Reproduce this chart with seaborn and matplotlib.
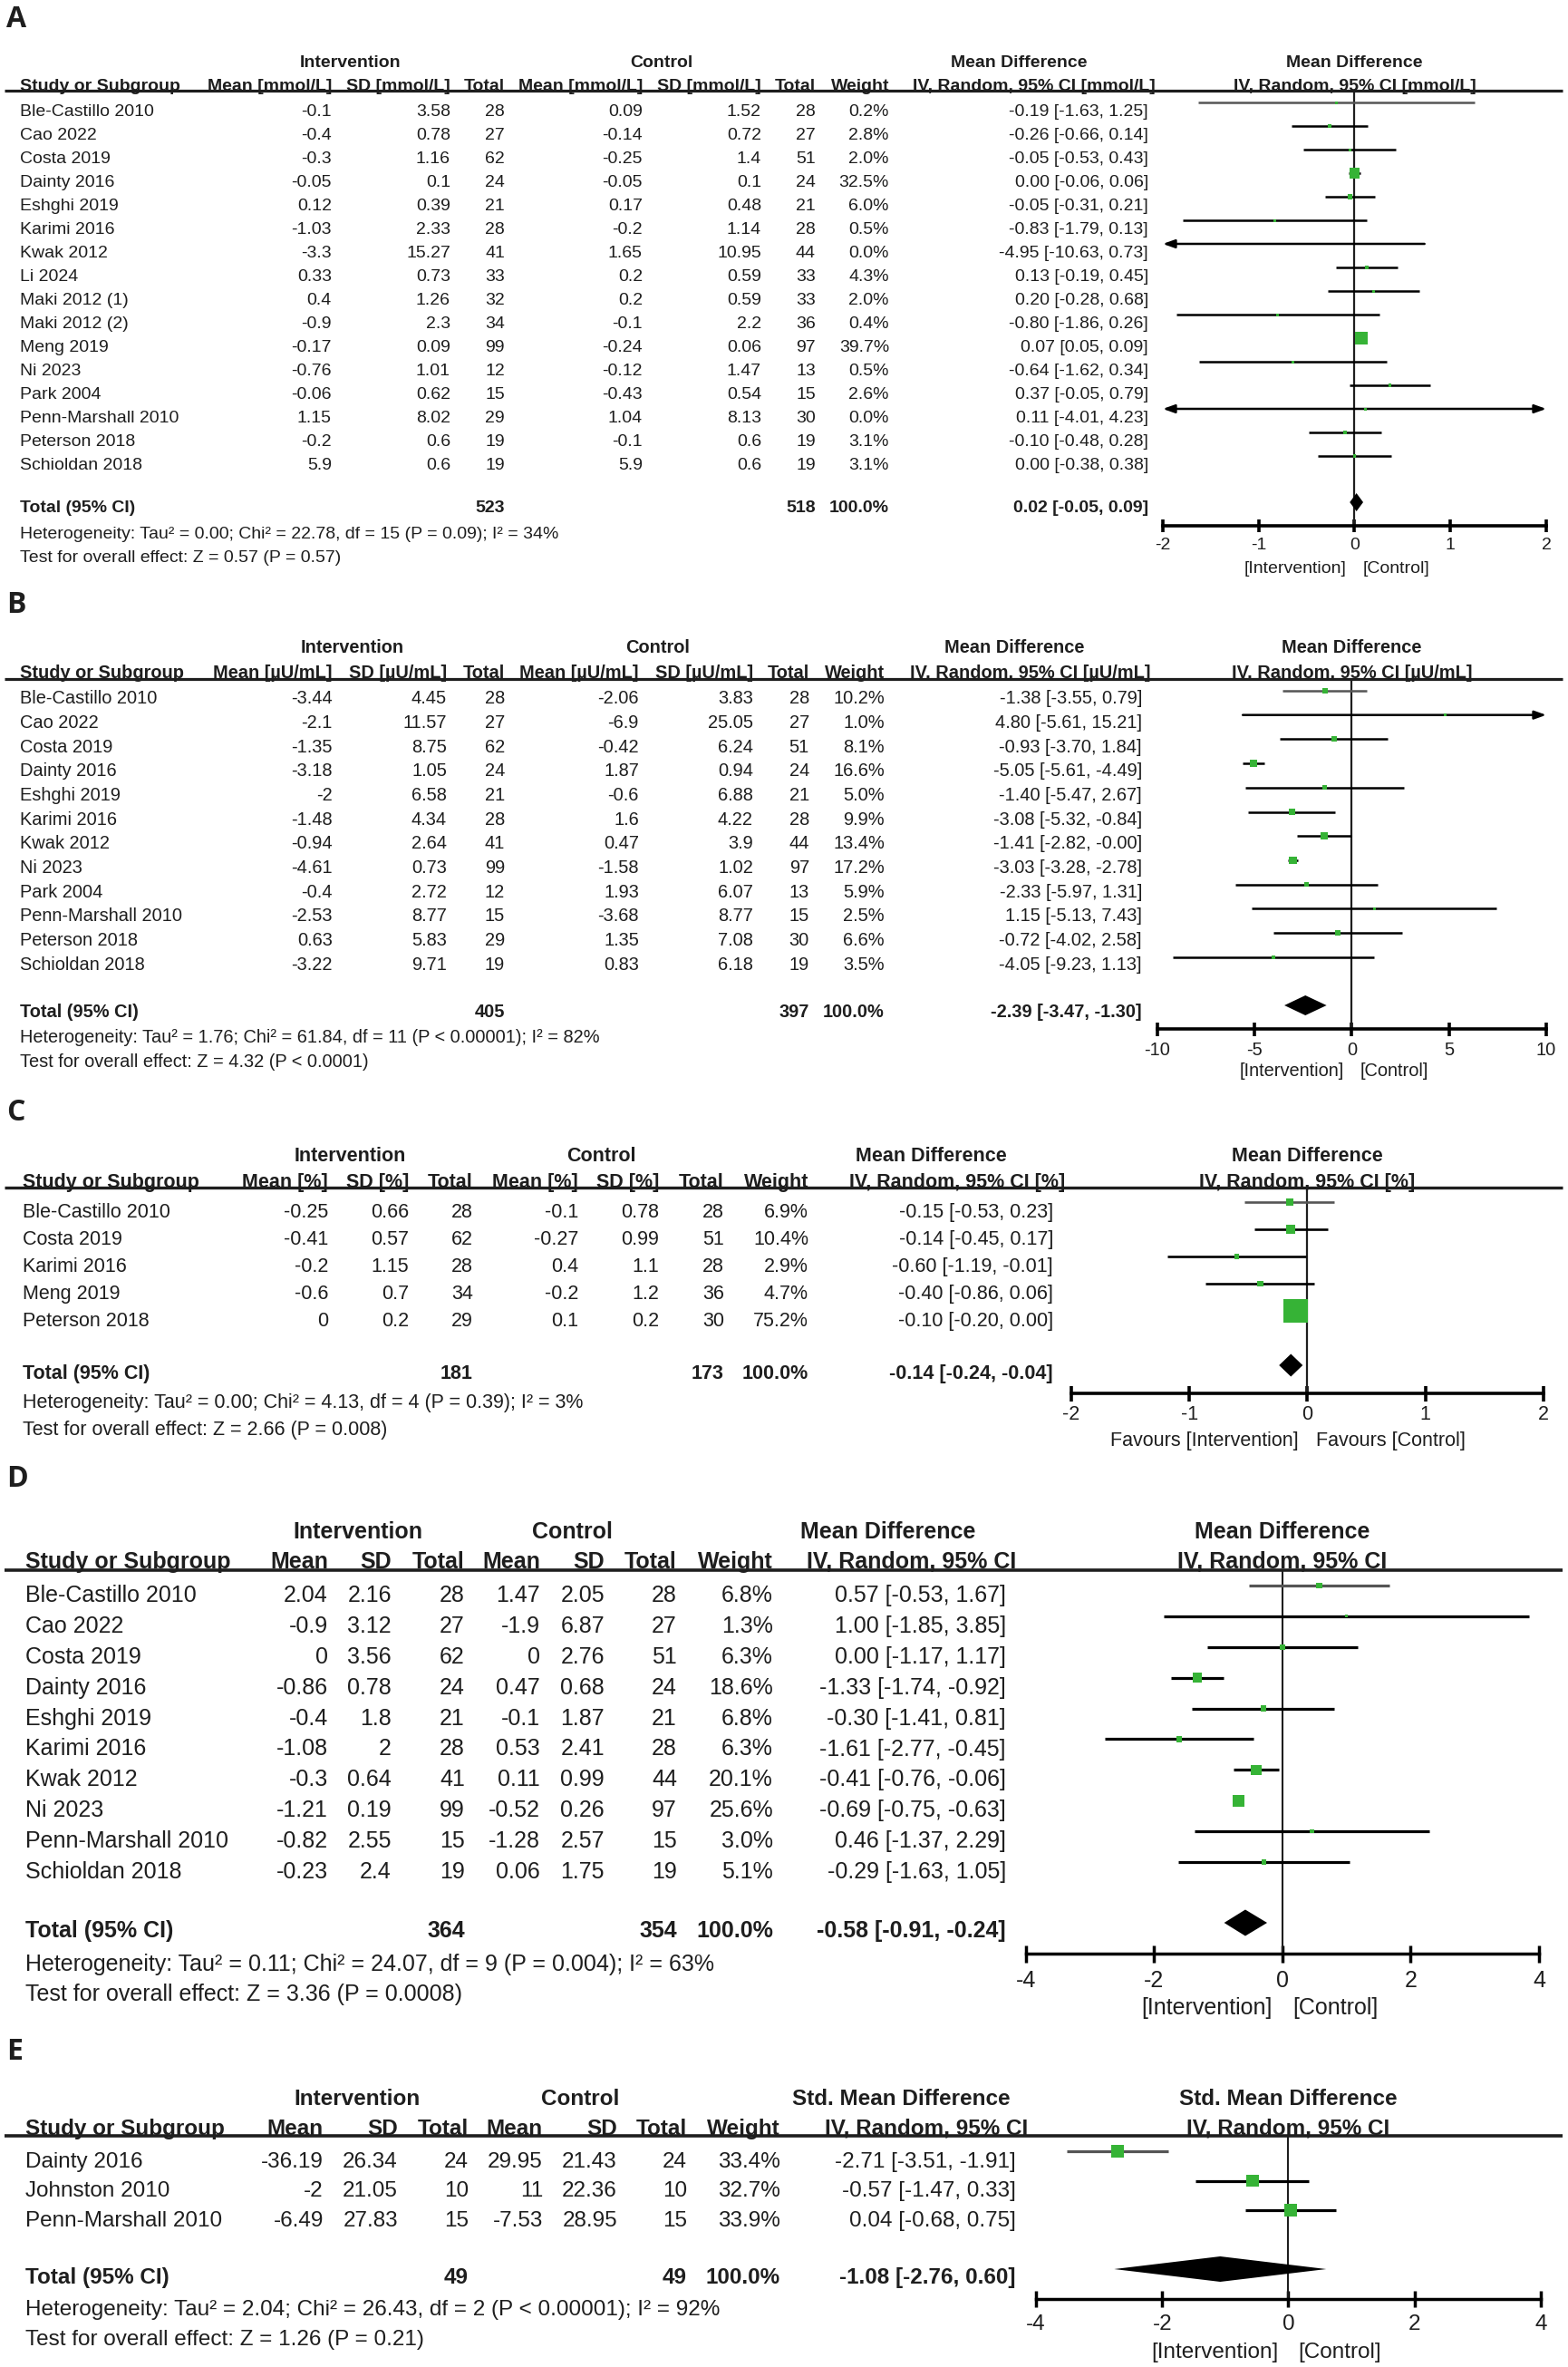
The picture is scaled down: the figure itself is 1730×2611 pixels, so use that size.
import numpy as np
import pandas as pd
import matplotlib
matplotlib.use("Agg")
import matplotlib.pyplot as plt
import seaborn as sns

sns.set_theme(style="white")
plt.rcParams["font.family"] = ["Liberation Sans", "DejaVu Sans"]

W, H, DPI = 1731, 2611, 100
INK = "#1e1e1e"
GREEN = "#36b336"

# ---------------- A : glucose [mmol/L] ----------------
studies_a = ["Ble-Castillo 2010", "Cao 2022", "Costa 2019", "Dainty 2016", "Eshghi 2019",
             "Karimi 2016", "Kwak 2012", "Li 2024", "Maki 2012 (1)", "Maki 2012 (2)",
             "Meng 2019", "Ni 2023", "Park 2004", "Penn-Marshall 2010", "Peterson 2018",
             "Schioldan 2018"]
int_mean_a = [-0.1, -0.4, -0.3, -0.05, 0.12, -1.03, -3.3, 0.33, 0.4, -0.9, -0.17, -0.76, -0.06, 1.15, -0.2, 5.9]
int_sd_a = [3.58, 0.78, 1.16, 0.1, 0.39, 2.33, 15.27, 0.73, 1.26, 2.3, 0.09, 1.01, 0.62, 8.02, 0.6, 0.6]
int_n_a = [28, 27, 62, 24, 21, 28, 41, 33, 32, 34, 99, 12, 15, 29, 19, 19]
ctl_mean_a = [0.09, -0.14, -0.25, -0.05, 0.17, -0.2, 1.65, 0.2, 0.2, -0.1, -0.24, -0.12, -0.43, 1.04, -0.1, 5.9]
ctl_sd_a = [1.52, 0.72, 1.4, 0.1, 0.48, 1.14, 10.95, 0.59, 0.59, 2.2, 0.06, 1.47, 0.54, 8.13, 0.6, 0.6]
ctl_n_a = [28, 27, 51, 24, 21, 28, 44, 33, 33, 36, 97, 13, 15, 30, 19, 19]
weight_a = [0.2, 2.8, 2.0, 32.5, 6.0, 0.5, 0.0, 4.3, 2.0, 0.4, 39.7, 0.5, 2.6, 0.0, 3.1, 3.1]
md_a = [-0.19, -0.26, -0.05, 0.00, -0.05, -0.83, -4.95, 0.13, 0.20, -0.80, 0.07, -0.64, 0.37, 0.11, -0.10, 0.00]
lo_a = [-1.63, -0.66, -0.53, -0.06, -0.31, -1.79, -10.63, -0.19, -0.28, -1.86, 0.05, -1.62, -0.05, -4.01, -0.48, -0.38]
hi_a = [1.25, 0.14, 0.43, 0.06, 0.21, 0.13, 0.73, 0.45, 0.68, 0.26, 0.09, 0.34, 0.79, 4.23, 0.28, 0.38]
n_total_a = [523, 518]
pooled_a = [0.02, -0.05, 0.09]
ticks_a = [-2, -1, 0, 1, 2]
het_a = "Heterogeneity: Tau² = 0.00; Chi² = 22.78, df = 15 (P = 0.09); I² = 34%"
test_a = "Test for overall effect: Z = 0.57 (P = 0.57)"

# ---------------- B : insulin [µU/mL] ----------------
studies_b = ["Ble-Castillo 2010", "Cao 2022", "Costa 2019", "Dainty 2016", "Eshghi 2019",
             "Karimi 2016", "Kwak 2012", "Ni 2023", "Park 2004", "Penn-Marshall 2010",
             "Peterson 2018", "Schioldan 2018"]
int_mean_b = [-3.44, -2.1, -1.35, -3.18, -2, -1.48, -0.94, -4.61, -0.4, -2.53, 0.63, -3.22]
int_sd_b = [4.45, 11.57, 8.75, 1.05, 6.58, 4.34, 2.64, 0.73, 2.72, 8.77, 5.83, 9.71]
int_n_b = [28, 27, 62, 24, 21, 28, 41, 99, 12, 15, 29, 19]
ctl_mean_b = [-2.06, -6.9, -0.42, 1.87, -0.6, 1.6, 0.47, -1.58, 1.93, -3.68, 1.35, 0.83]
ctl_sd_b = [3.83, 25.05, 6.24, 0.94, 6.88, 4.22, 3.9, 1.02, 6.07, 8.77, 7.08, 6.18]
ctl_n_b = [28, 27, 51, 24, 21, 28, 44, 97, 13, 15, 30, 19]
weight_b = [10.2, 1.0, 8.1, 16.6, 5.0, 9.9, 13.4, 17.2, 5.9, 2.5, 6.6, 3.5]
md_b = [-1.38, 4.80, -0.93, -5.05, -1.40, -3.08, -1.41, -3.03, -2.33, 1.15, -0.72, -4.05]
lo_b = [-3.55, -5.61, -3.70, -5.61, -5.47, -5.32, -2.82, -3.28, -5.97, -5.13, -4.02, -9.23]
hi_b = [0.79, 15.21, 1.84, -4.49, 2.67, -0.84, -0.0, -2.78, 1.31, 7.43, 2.58, 1.13]
n_total_b = [405, 397]
pooled_b = [-2.39, -3.47, -1.30]
ticks_b = [-10, -5, 0, 5, 10]
het_b = "Heterogeneity: Tau² = 1.76; Chi² = 61.84, df = 11 (P < 0.00001); I² = 82%"
test_b = "Test for overall effect: Z = 4.32 (P < 0.0001)"

# ---------------- C : HbA1c [%] ----------------
studies_c = ["Ble-Castillo 2010", "Costa 2019", "Karimi 2016", "Meng 2019", "Peterson 2018"]
int_mean_c = [-0.25, -0.41, -0.2, -0.6, 0]
int_sd_c = [0.66, 0.57, 1.15, 0.7, 0.2]
int_n_c = [28, 62, 28, 34, 29]
ctl_mean_c = [-0.1, -0.27, 0.4, -0.2, 0.1]
ctl_sd_c = [0.78, 0.99, 1.1, 1.2, 0.2]
ctl_n_c = [28, 51, 28, 36, 30]
weight_c = [6.9, 10.4, 2.9, 4.7, 75.2]
md_c = [-0.15, -0.14, -0.60, -0.40, -0.10]
lo_c = [-0.53, -0.45, -1.19, -0.86, -0.20]
hi_c = [0.23, 0.17, -0.01, 0.06, 0.00]
n_total_c = [181, 173]
pooled_c = [-0.14, -0.24, -0.04]
ticks_c = [-2, -1, 0, 1, 2]
het_c = "Heterogeneity: Tau² = 0.00; Chi² = 4.13, df = 4 (P = 0.39); I² = 3%"
test_c = "Test for overall effect: Z = 2.66 (P = 0.008)"

# ---------------- D : HOMA-IR ----------------
studies_d = ["Ble-Castillo 2010", "Cao 2022", "Costa 2019", "Dainty 2016", "Eshghi 2019",
             "Karimi 2016", "Kwak 2012", "Ni 2023", "Penn-Marshall 2010", "Schioldan 2018"]
int_mean_d = [2.04, -0.9, 0, -0.86, -0.4, -1.08, -0.3, -1.21, -0.82, -0.23]
int_sd_d = [2.16, 3.12, 3.56, 0.78, 1.8, 2, 0.64, 0.19, 2.55, 2.4]
int_n_d = [28, 27, 62, 24, 21, 28, 41, 99, 15, 19]
ctl_mean_d = [1.47, -1.9, 0, 0.47, -0.1, 0.53, 0.11, -0.52, -1.28, 0.06]
ctl_sd_d = [2.05, 6.87, 2.76, 0.68, 1.87, 2.41, 0.99, 0.26, 2.57, 1.75]
ctl_n_d = [28, 27, 51, 24, 21, 28, 44, 97, 15, 19]
weight_d = [6.8, 1.3, 6.3, 18.6, 6.8, 6.3, 20.1, 25.6, 3.0, 5.1]
md_d = [0.57, 1.00, 0.00, -1.33, -0.30, -1.61, -0.41, -0.69, 0.46, -0.29]
lo_d = [-0.53, -1.85, -1.17, -1.74, -1.41, -2.77, -0.76, -0.75, -1.37, -1.63]
hi_d = [1.67, 3.85, 1.17, -0.92, 0.81, -0.45, -0.06, -0.63, 2.29, 1.05]
n_total_d = [364, 354]
pooled_d = [-0.58, -0.91, -0.24]
ticks_d = [-4, -2, 0, 2, 4]
het_d = "Heterogeneity: Tau² = 0.11; Chi² = 24.07, df = 9 (P = 0.004); I² = 63%"
test_d = "Test for overall effect: Z = 3.36 (P = 0.0008)"

# ---------------- E : std. mean difference ----------------
studies_e = ["Dainty 2016", "Johnston 2010", "Penn-Marshall 2010"]
int_mean_e = [-36.19, -2, -6.49]
int_sd_e = [26.34, 21.05, 27.83]
int_n_e = [24, 10, 15]
ctl_mean_e = [29.95, 11, -7.53]
ctl_sd_e = [21.43, 22.36, 28.95]
ctl_n_e = [24, 10, 15]
weight_e = [33.4, 32.7, 33.9]
md_e = [-2.71, -0.57, 0.04]
lo_e = [-3.51, -1.47, -0.68]
hi_e = [-1.91, 0.33, 0.75]
n_total_e = [49, 49]
pooled_e = [-1.08, -2.76, 0.60]
ticks_e = [-4, -2, 0, 2, 4]
het_e = "Heterogeneity: Tau² = 2.04; Chi² = 26.43, df = 2 (P < 0.00001); I² = 92%"
test_e = "Test for overall effect: Z = 1.26 (P = 0.21)"


def heads(unit):
    u = f" [{unit}]" if unit else ""
    return [f"Mean{u}", f"SD{u}", "Total", f"Mean{u}", f"SD{u}", "Total", "Weight"]


panels = [
    (dict(letter="A", letter_y=21, grp_y=67, sub_y=93, line_y=100, row0=121, step=26,
          total_y=558, het_y=587, test_y=613, axis_y=580, tick_y=600, xlab_y=625, fs=14,
          cols=[22, 366, 497, 557, 709, 840, 900, 981, 1267], grp_x=(387, 730, 1124),
          iv_right=1275, fx=(1283, 1706), k=2.1, dia_h=20, lw=1.8, alw=2.6, hlw=2.3,
          zlw=1.6, tl=14, off=8, doff=4),
     dict(study=studies_a, im=int_mean_a, isd=int_sd_a, inn=int_n_a, cm=ctl_mean_a, csd=ctl_sd_a,
          cn=ctl_n_a, w=weight_a, md=md_a, lo=lo_a, hi=hi_a, tot=n_total_a, pooled=pooled_a,
          ticks=ticks_a, het=het_a, test=test_a, heads=heads("mmol/L"), effect="Mean Difference",
          method="IV, Random, 95% CI [mmol/L]", labs=("[Intervention]", "[Control]"))),
    (dict(letter="B", letter_y=668, grp_y=713, sub_y=741, line_y=749, row0=769, step=26.7,
          total_y=1115, het_y=1143, test_y=1170, axis_y=1135, tick_y=1157, xlab_y=1180, fs=14.4,
          cols=[22, 367, 493, 557, 705, 831, 893, 976, 1260], grp_x=(389, 726, 1119),
          iv_right=1270, fx=(1277, 1706), k=2.1, dia_h=22, lw=1.8, alw=2.6, hlw=2.3,
          zlw=1.6, tl=15, off=7, doff=6),
     dict(study=studies_b, im=int_mean_b, isd=int_sd_b, inn=int_n_b, cm=ctl_mean_b, csd=ctl_sd_b,
          cn=ctl_n_b, w=weight_b, md=md_b, lo=lo_b, hi=hi_b, tot=n_total_b, pooled=pooled_b,
          ticks=ticks_b, het=het_b, test=test_b, heads=heads("µU/mL"), effect="Mean Difference",
          method="IV, Random, 95% CI [µU/mL]", labs=("[Intervention]", "[Control]"))),
    (dict(letter="C", letter_y=1227, grp_y=1273, sub_y=1302, line_y=1310, row0=1335, step=30,
          total_y=1513, het_y=1545, test_y=1575, axis_y=1537, tick_y=1558, xlab_y=1587, fs=15.5,
          cols=[25, 362, 451, 522, 638, 727, 799, 892, 1162], grp_x=(386, 663, 1027),
          iv_right=1175, fx=(1182, 1703), k=3.1, dia_h=25, lw=1.9, alw=2.6, hlw=2.4,
          zlw=1.6, tl=17, off=9, doff=7),
     dict(study=studies_c, im=int_mean_c, isd=int_sd_c, inn=int_n_c, cm=ctl_mean_c, csd=ctl_sd_c,
          cn=ctl_n_c, w=weight_c, md=md_c, lo=lo_c, hi=hi_c, tot=n_total_c, pooled=pooled_c,
          ticks=ticks_c, het=het_c, test=test_c, heads=heads("%"), effect="Mean Difference",
          method="IV, Random, 95% CI [%]", labs=("Favours [Intervention]", "Favours [Control]"))),
    (dict(letter="D", letter_y=1632, grp_y=1688, sub_y=1721, line_y=1732, row0=1758, step=33.9,
          total_y=2128, het_y=2165, test_y=2198, axis_y=2155, tick_y=2182, xlab_y=2213, fs=18,
          cols=[28, 362, 432, 513, 596, 667, 747, 853, 1110], grp_x=(395, 631, 980),
          iv_right=1121, fx=(1132, 1698), k=2.5, dia_h=29, lw=2.3, alw=2.5, hlw=2.6,
          zlw=1.5, tl=19, off=9, doff=7),
     dict(study=studies_d, im=int_mean_d, isd=int_sd_d, inn=int_n_d, cm=ctl_mean_d, csd=ctl_sd_d,
          cn=ctl_n_d, w=weight_d, md=md_d, lo=lo_d, hi=hi_d, tot=n_total_d, pooled=pooled_d,
          ticks=ticks_d, het=het_d, test=test_d, heads=heads(""), effect="Mean Difference",
          method="IV, Random, 95% CI", labs=("[Intervention]", "[Control]"))),
    (dict(letter="E", letter_y=2264, grp_y=2313, sub_y=2346, line_y=2356, row0=2382, step=32.5,
          total_y=2510, het_y=2545, test_y=2578, axis_y=2536, tick_y=2562, xlab_y=2592, fs=17.5,
          cols=[28, 357, 439, 517, 599, 681, 758, 861, 1121], grp_x=(394, 640, 994),
          iv_right=1134, fx=(1143, 1700), k=2.4, dia_h=28, lw=2.3, alw=2.5, hlw=2.6,
          zlw=1.5, tl=18, off=9, doff=7),
     dict(study=studies_e, im=int_mean_e, isd=int_sd_e, inn=int_n_e, cm=ctl_mean_e, csd=ctl_sd_e,
          cn=ctl_n_e, w=weight_e, md=md_e, lo=lo_e, hi=hi_e, tot=n_total_e, pooled=pooled_e,
          ticks=ticks_e, het=het_e, test=test_e, heads=heads(""), effect="Std. Mean Difference",
          method="IV, Random, 95% CI", labs=("[Intervention]", "[Control]"))),
]


def draw_panel(fig, bg, L, d):
    fs = L["fs"]
    em = fs * DPI / 72

    def put(x, y, s, ha="right", bold=False):
        bg.text(x, y + 0.36 * em, s, ha=ha, va="baseline", fontsize=fs,
                fontweight="bold" if bold else "normal", color=INK)

    c = L["cols"]
    bg.text(7, L["letter_y"], L["letter"], fontsize=23, fontweight="bold", family="Open Sans",
            va="center", ha="left", color=INK)

    # header block
    gi, gc, ge = L["grp_x"]
    fmid = sum(L["fx"]) / 2
    put(gi, L["grp_y"], "Intervention", "center", True)
    put(gc, L["grp_y"], "Control", "center", True)
    put(ge, L["grp_y"], d["effect"], "center", True)
    put(fmid, L["grp_y"], d["effect"], "center", True)
    put(c[0], L["sub_y"], "Study or Subgroup", "left", True)
    for x, s in zip(c[1:8], d["heads"]):
        put(x, L["sub_y"], s, "right", True)
    put(L["iv_right"], L["sub_y"], d["method"], "right", True)
    put(fmid, L["sub_y"], d["method"], "center", True)
    bg.plot([5, 1724], [L["line_y"], L["line_y"]], color=INK, lw=L["hlw"], solid_capstyle="butt")

    # study rows
    n = len(d["study"])
    ys = L["row0"] + L["step"] * np.arange(n)
    for i, y in enumerate(ys):
        put(c[0], y, d["study"][i], "left")
        put(c[1], y, f"{d['im'][i]:g}")
        put(c[2], y, f"{d['isd'][i]:g}")
        put(c[3], y, f"{d['inn'][i]}")
        put(c[4], y, f"{d['cm'][i]:g}")
        put(c[5], y, f"{d['csd'][i]:g}")
        put(c[6], y, f"{d['cn'][i]}")
        put(c[7], y, f"{d['w'][i]:.1f}%")
        put(c[8], y, f"{d['md'][i]:.2f} [{d['lo'][i]:.2f}, {d['hi'][i]:.2f}]")

    est, plo, phi = d["pooled"]
    put(c[0], L["total_y"], "Total (95% CI)", "left", True)
    put(c[3], L["total_y"], f"{d['tot'][0]}", "right", True)
    put(c[6], L["total_y"], f"{d['tot'][1]}", "right", True)
    put(c[7], L["total_y"], "100.0%", "right", True)
    put(c[8], L["total_y"], f"{est:.2f} [{plo:.2f}, {phi:.2f}]", "right", True)
    put(c[0], L["het_y"], d["het"], "left")
    put(c[0], L["test_y"], d["test"], "left")

    # forest plot
    x0, x1 = L["fx"]
    ax = fig.add_axes([x0 / W, 1 - L["axis_y"] / H, (x1 - x0) / W,
                       (L["axis_y"] - L["line_y"]) / H])
    xmin, xmax = d["ticks"][0], d["ticks"][-1]
    ax.axvline(0, color=INK, lw=L["zlw"], zorder=1)

    my = ys - L["off"]
    head = dict(arrowstyle="-|>,head_length=0.7,head_width=0.25", mutation_scale=11)
    for i in range(n):
        lo, hi, y = d["lo"][i], d["hi"][i], my[i]
        col = "#555555" if i == 0 else "black"
        a, b = max(lo, xmin), min(hi, xmax)
        props = dict(color=col, lw=L["lw"], shrinkA=0, shrinkB=0, **head)
        if lo < xmin and hi > xmax:
            props["arrowstyle"] = "<|-|>,head_length=0.7,head_width=0.25"
            ax.annotate("", xy=(xmax, y), xytext=(xmin, y), arrowprops=props, annotation_clip=False)
        elif lo < xmin:
            ax.annotate("", xy=(xmin, y), xytext=(b, y), arrowprops=props, annotation_clip=False)
        elif hi > xmax:
            ax.annotate("", xy=(xmax, y), xytext=(a, y), arrowprops=props, annotation_clip=False)
        else:
            ax.hlines(y, lo, hi, color=col, lw=L["lw"], zorder=2)

    side_px = np.maximum(L["k"] * np.sqrt(np.array(d["w"])), 3.0)
    df = pd.DataFrame({"md": d["md"], "y": my, "area": (side_px * 72 / DPI) ** 2})
    sns.scatterplot(data=df, x="md", y="y", marker="s", color=GREEN, edgecolor="none",
                    linewidth=0, ax=ax, legend=False, zorder=4)
    ax.collections[-1].set_sizes(df["area"].to_numpy())

    ty = L["total_y"] - L["doff"]
    h = L["dia_h"] / 2
    ax.fill([plo, est, phi, est], [ty, ty - h, ty, ty + h], color="black", lw=0, zorder=4)

    ax.set_xlim(xmin, xmax)
    ax.set_ylim(L["axis_y"], L["line_y"])
    ax.set_xlabel("")
    ax.set_ylabel("")
    ax.patch.set_visible(False)
    for s in ["top", "left", "right"]:
        ax.spines[s].set_visible(False)
    ax.spines["bottom"].set_linewidth(L["alw"])
    ax.spines["bottom"].set_color("black")
    ax.set_yticks([])
    ax.set_xticks(d["ticks"])
    ax.set_xticklabels([f"{t:g}" for t in d["ticks"]])
    pad_pt = ((L["tick_y"] - L["axis_y"]) - L["tl"] / 2 - 0.375 * em) * 72 / DPI
    ax.tick_params(axis="x", bottom=True, direction="inout", length=L["tl"] * 72 / DPI,
                   width=L["alw"], labelsize=fs, pad=pad_pt, color="black", labelcolor=INK)

    gap = 0.45 * em * 72 / DPI
    yl = L["xlab_y"] + 0.36 * em
    ax.annotate(d["labs"][0], xy=(0, yl), xytext=(-gap, 0), textcoords="offset points",
                ha="right", va="baseline", fontsize=fs, color=INK, annotation_clip=False)
    ax.annotate(d["labs"][1], xy=(0, yl), xytext=(gap, 0), textcoords="offset points",
                ha="left", va="baseline", fontsize=fs, color=INK, annotation_clip=False)


fig = plt.figure(figsize=(W / DPI, H / DPI), dpi=DPI)
fig.patch.set_facecolor("white")
bg = fig.add_axes([0, 0, 1, 1])
bg.set_xlim(0, W)
bg.set_ylim(H, 0)
bg.axis("off")

for layout, data in panels:
    draw_panel(fig, bg, layout, data)

fig.savefig("out.png", dpi=DPI, facecolor="white")
